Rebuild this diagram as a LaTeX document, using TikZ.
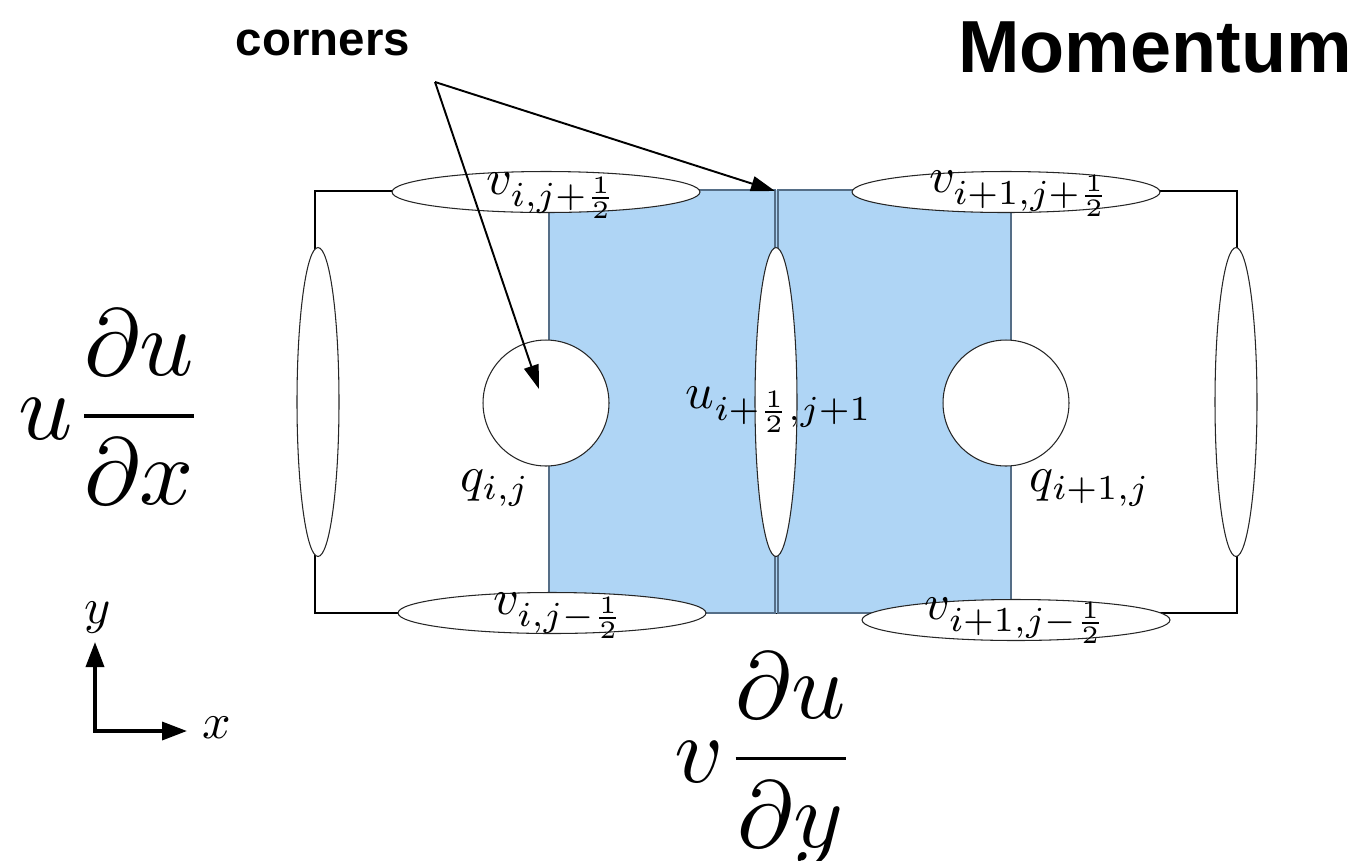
\documentclass[tikz,border=0pt]{standalone}
\usepackage{fontspec}
\newfontfamily\helv{Liberation Sans}
\usetikzlibrary{arrows.meta,shapes.geometric}
\definecolor{cellblue}{RGB}{175,213,245}
\definecolor{cellline}{RGB}{85,110,135}

\begin{document}
\begin{tikzpicture}[x=0.02cm,y=-0.02cm,>=Latex,
  hflux/.style={draw=black!85,fill=white,ellipse,line width=.6pt,inner sep=0,minimum width=6.16cm,minimum height=.82cm},
  vflux/.style={draw=black!85,fill=white,ellipse,line width=.6pt,inner sep=0,minimum width=.84cm,minimum height=6.18cm},
  qcell/.style={draw=black!85,fill=white,circle,line width=.6pt,inner sep=0,minimum size=2.52cm},
  lbl/.style={inner sep=0,scale=2.85},
  big/.style={inner sep=0,scale=5.4},
  call/.style={-{Triangle[length=.48cm,width=.3cm]},line width=1.1pt},
  axis/.style={{Triangle[length=.5cm,width=.36cm]}-{Triangle[length=.5cm,width=.36cm]},line width=2pt}]
  \useasboundingbox (0,0) rectangle (1353,860);
  % outer cells and the u control volume
  \draw[line width=.6pt] (315,191) rectangle (1237,613);
  \fill[cellblue] (549,190) rectangle (1011,613);
  \draw[cellline,line width=.7pt] (549,190) rectangle (775,613);
  \draw[cellline,line width=.7pt] (778,190) rectangle (1011,613);
  % face values
  \node[hflux] (vtl) at (546,192) {};\node[hflux] (vtr) at (1006,192) {};
  \node[hflux] (vbl) at (552,613) {};\node[hflux] (vbr) at (1016,620) {};
  \node[vflux] (ul) at (318,402) {};\node[vflux] (um) at (776,402) {};\node[vflux] (ur) at (1236,402) {};
  \node[qcell] (ql) at (546,403) {};\node[qcell] (qr) at (1006,403) {};
  \node[lbl] (lvtl) at (552,196) {$v_{i,j+\frac{1}{2}}$};
  \node[lbl] (lvtr) at (1020,194) {$v_{i+1,j+\frac{1}{2}}$};
  \node[lbl] (lvbl) at (559,616) {$v_{i,j-\frac{1}{2}}$};
  \node[lbl] (lvbr) at (1016,621) {$v_{i+1,j-\frac{1}{2}}$};
  \node[lbl] (lum) at (779,410) {$u_{i+\frac{1}{2},j+1}$};
  \node[lbl] (lql) at (495,488) {$q_{i,j}$};
  \node[lbl] (lqr) at (1090,488) {$q_{i+1,j}$};
  % advection terms
  \node[big] (dudx) at (112,407) {$\displaystyle u\frac{\partial u}{\partial x}$};
  \node[big] (dudy) at (766,759) {$\displaystyle v\frac{\partial u}{\partial y}$};
  % callout
  \node[inner sep=0,font=\helv\bfseries\fontsize{27}{32}\selectfont] (corners) at (323,43) {corners};
  \node[inner sep=0,font=\helv\bfseries\fontsize{42}{50}\selectfont] (title) at (1155,47) {Momentum};
  \coordinate (cfork) at (435,82);
  \coordinate (cq) at (539,389);
  \coordinate (ctop) at (775,191);
  \draw[call] (cfork) -- (cq);
  \draw[call] (cfork) -- (ctop);
  % axes
  \coordinate (O) at (95,731);
  \coordinate (ytip) at (95,642);
  \coordinate (xtip) at (187,731);
  \draw[axis] (ytip) -- (O) -- (xtip);
  \node[lbl] (ylab) at (98,618) {$y$};
  \node[lbl] (xlab) at (217,728) {$x$};
\end{tikzpicture}
\end{document}
